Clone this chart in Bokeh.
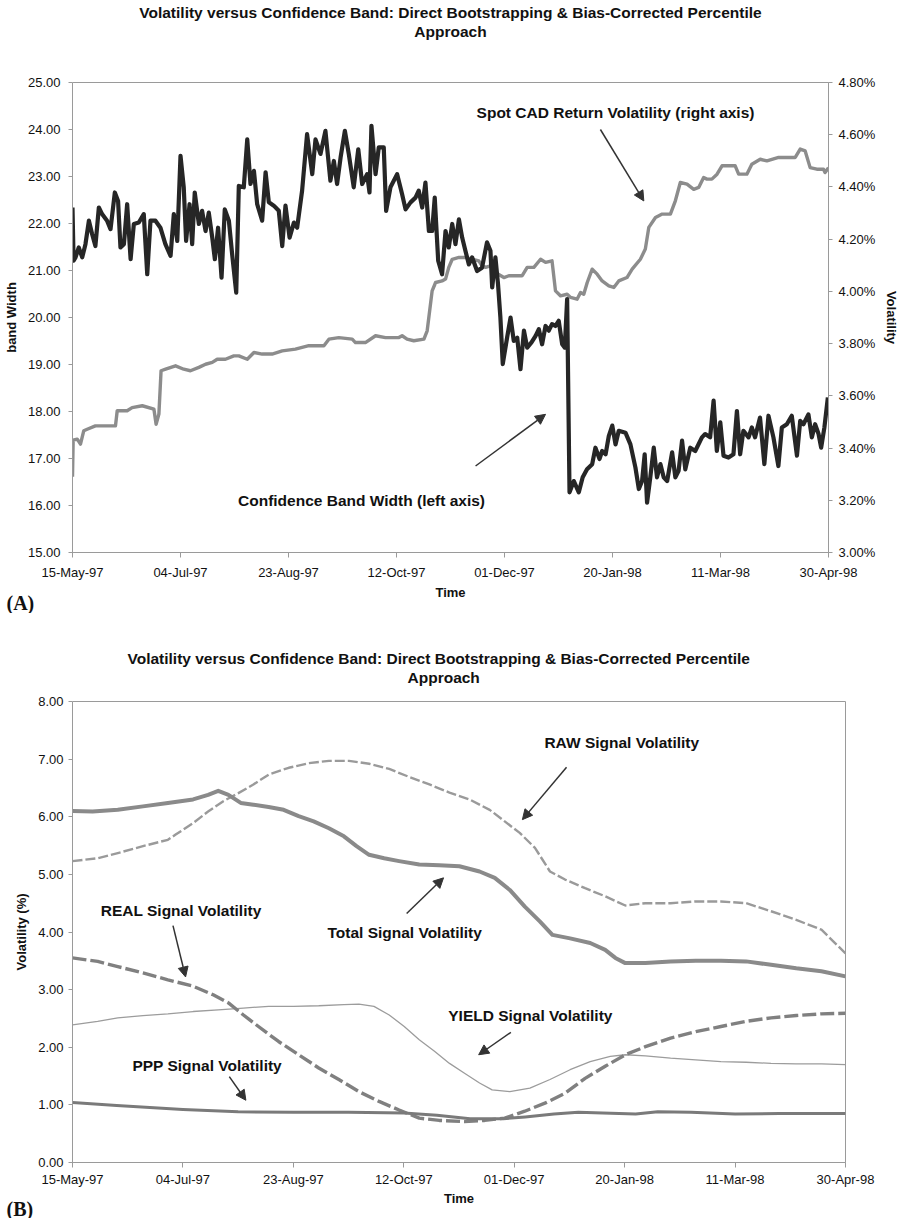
from bokeh.plotting import figure
from bokeh.models import (Range1d, LinearAxis, FixedTicker, PrintfTickFormatter,
                          Label, Arrow, NormalHead, Title)
from bokeh.layouts import column
from bokeh.embed import file_html
from bokeh.resources import INLINE

# ---------------- data ----------------
tick_days = [0, 50, 100, 150, 200, 250, 300, 350]
tick_labels = ["15-May-97", "04-Jul-97", "23-Aug-97", "12-Oct-97",
               "01-Dec-97", "20-Jan-98", "11-Mar-98", "30-Apr-98"]

# Panel A: confidence band width (left axis), days since 15-May-97
band_days = [0, 0.5, 1.4, 2.9, 4.5, 6.0, 7.6, 9.1, 10.6, 12.2, 13.7, 16.0, 17.6, 19.6, 21.1, 22.2,
             23.8, 25.3, 26.9, 28.4, 30.7, 33.0, 34.6, 36.1, 38.4, 40.7, 43.0, 45.4, 46.9, 48.5,
             50.0, 51.5, 52.6, 54.2, 55.4, 56.6, 58.5, 60.0, 61.6, 63.1, 64.7, 65.9, 67.4, 69.0,
             70.5, 72.4, 73.9, 75.8, 77.0, 79.3, 80.9, 82.4, 84.0, 85.5, 87.8, 89.4, 90.9, 93.2,
             95.5, 97.1, 98.6, 100.5, 102.5, 104.0, 106.3, 108.6, 111.0, 112.5, 114.8, 117.1,
             119.4, 121.0, 122.5, 124.1, 126.1, 127.9, 130.2, 132.3, 134.1, 136.4, 137.5, 138.4,
             140.3, 141.8, 144.1, 145.2, 147.2, 150.3, 152.6, 154.2, 156.5, 158.8, 160.3, 161.9,
             163.4, 165.0, 166.5, 167.7, 169.3, 171.1, 172.7, 174.2, 175.8, 177.3, 178.9, 180.4,
             181.9, 183.5, 185.0, 187.3, 189.6, 191.9, 193.5, 194.3, 195.8, 197.0, 198.1, 199.2,
             201.2, 202.8, 204.3, 205.9, 207.4, 209.0, 210.5, 212.5, 214.4, 215.9, 217.4, 219.0,
             220.5, 222.0, 223.6, 225.1, 226.7, 227.9, 229.0, 230.1, 232.1, 234.4, 236.2, 238.2,
             240.6, 242.1, 244.0, 245.2, 246.8, 248.3, 249.9, 251.4, 252.9, 256.0, 258.3, 260.6,
             262.2, 263.7, 264.9, 266.0, 267.5, 269.1, 270.6, 272.2, 273.7, 275.3, 277.6, 279.1,
             280.6, 282.2, 283.7, 286.0, 288.3, 291.4, 292.9, 295.2, 296.8, 298.3, 299.9, 301.4,
             303.7, 306.0, 307.6, 309.1, 310.6, 313.0, 314.5, 316.0, 318.3, 320.3, 322.2, 324.5,
             326.8, 328.4, 330.7, 333.0, 335.4, 336.9, 338.4, 340.7, 342.3, 343.8, 345.4, 346.6,
             348.1, 349.7]
band_width = [22.34, 21.21, 21.28, 21.49, 21.28, 21.56, 22.06, 21.77, 21.52, 22.34, 22.20, 22.06,
              21.88, 22.66, 22.48, 21.49, 21.56, 22.41, 21.24, 21.99, 22.02, 22.20, 20.92, 22.06,
              22.06, 21.91, 21.56, 21.31, 22.20, 21.63, 23.44, 22.77, 21.63, 22.41, 21.56, 22.66,
              21.99, 22.27, 21.84, 22.23, 21.70, 21.24, 21.91, 20.85, 22.30, 22.06, 21.35, 20.53,
              22.80, 22.77, 23.79, 22.84, 23.12, 22.41, 22.06, 23.09, 22.45, 22.38, 22.27, 21.52,
              22.38, 21.70, 22.02, 21.91, 22.70, 23.90, 23.05, 23.79, 23.48, 23.97, 22.91, 23.33,
              22.84, 23.40, 23.97, 23.48, 22.77, 23.58, 22.84, 23.05, 22.66, 24.08, 23.05, 23.62,
              23.62, 22.27, 22.77, 23.05, 22.62, 22.30, 22.45, 22.55, 22.70, 22.34, 22.87, 21.84,
              21.84, 22.55, 21.21, 20.92, 21.84, 21.49, 21.99, 21.56, 22.09, 21.70, 21.42, 21.13,
              21.28, 20.99, 21.06, 21.60, 21.42, 20.64, 21.28, 20.71, 20.00, 19.01, 19.57, 20.00,
              19.50, 19.57, 18.90, 19.72, 19.36, 19.47, 19.61, 19.75, 19.43, 19.82, 19.72, 19.86,
              19.82, 19.93, 19.43, 19.36, 20.39, 16.28, 16.52, 16.28, 16.60, 16.77, 16.88, 17.23,
              16.99, 17.16, 17.09, 17.48, 17.70, 17.30, 17.59, 17.55, 17.30, 16.81, 16.35, 16.52,
              17.09, 16.06, 16.60, 17.23, 16.60, 16.88, 16.60, 16.52, 17.13, 16.60, 16.74, 17.38,
              16.77, 17.23, 17.16, 17.45, 17.52, 17.45, 18.23, 17.16, 17.77, 17.06, 17.02, 17.09,
              18.01, 17.09, 17.59, 17.45, 17.66, 17.45, 17.87, 16.88, 17.91, 17.45, 16.84, 17.66,
              17.73, 17.91, 17.06, 17.80, 17.73, 17.94, 17.45, 17.73, 17.52, 17.23, 17.66, 18.30]

# Panel A: spot CAD return volatility in % (right axis)
vol_days = [0, 0.3, 2.2, 3.7, 5.2, 6.8, 10.6, 19.9, 20.7, 25.3, 27.6, 32.3, 37.7, 38.7, 40.0, 41.0,
            43.1, 47.7, 51.5, 54.6, 58.5, 61.6, 64.7, 67.0, 70.8, 74.7, 77.0, 80.9, 84.0, 87.8,
            92.4, 97.1, 103.2, 109.4, 116.4, 118.7, 123.3, 129.5, 131.0, 135.6, 140.3, 144.9,
            151.1, 152.6, 154.9, 158.0, 162.7, 164.2, 166.5, 168.1, 171.1, 172.7, 174.2, 175.8,
            178.9, 181.9, 185.0, 188.1, 189.6, 191.2, 193.5, 195.8, 199.7, 202.0, 208.2, 210.5,
            213.6, 216.7, 219.0, 222.0, 223.6, 225.9, 229.0, 230.6, 233.6, 235.2, 236.7, 238.3,
            240.6, 242.9, 245.2, 248.3, 250.6, 252.9, 256.7, 259.1, 262.9, 265.2, 266.8, 269.9,
            273.0, 276.8, 279.1, 281.4, 284.5, 287.6, 289.9, 292.2, 293.7, 296.0, 298.4, 300.7,
            306.8, 308.4, 312.2, 314.5, 318.4, 321.5, 326.9, 334.6, 336.9, 339.2, 341.5, 344.6,
            347.7, 348.4, 350.0]
spot_vol = [3.29, 3.43, 3.434, 3.415, 3.466, 3.472, 3.485, 3.485, 3.543, 3.543, 3.555, 3.562,
            3.549, 3.491, 3.530, 3.696, 3.702, 3.715, 3.702, 3.696, 3.709, 3.721, 3.728, 3.740,
            3.740, 3.753, 3.753, 3.740, 3.766, 3.760, 3.760, 3.772, 3.779, 3.792, 3.792, 3.817,
            3.823, 3.817, 3.804, 3.804, 3.830, 3.823, 3.823, 3.830, 3.817, 3.811, 3.817, 3.849,
            4.002, 4.034, 4.040, 4.047, 4.092, 4.123, 4.130, 4.130, 4.123, 4.117, 4.098, 4.092,
            4.098, 4.072, 4.053, 4.060, 4.060, 4.092, 4.092, 4.123, 4.111, 4.117, 4.002, 3.983,
            3.989, 3.977, 3.970, 3.996, 3.989, 4.034, 4.085, 4.066, 4.040, 4.021, 4.015, 4.040,
            4.053, 4.085, 4.123, 4.162, 4.245, 4.283, 4.296, 4.296, 4.347, 4.417, 4.411, 4.391,
            4.398, 4.436, 4.430, 4.430, 4.449, 4.481, 4.481, 4.449, 4.449, 4.487, 4.506, 4.500,
            4.513, 4.513, 4.545, 4.538, 4.474, 4.468, 4.468, 4.455, 4.474]

# Panel B: signal volatilities (%)
total_days = [0, 9.1, 20.5, 31.9, 43.2, 54.6, 61.4, 66.0, 70.6, 76.2, 81.9, 88.8, 95.6, 102.4,
              109.2, 116.1, 122.9, 128.6, 134.3, 141.1, 147.9, 157.0, 166.1, 175.2, 184.3, 191.2,
              198.0, 204.8, 211.7, 217.3, 225.3, 234.4, 241.2, 245.8, 250.3, 259.4, 270.8, 282.2,
              293.6, 305.0, 316.3, 327.7, 339.1, 350]
total_vol = [6.10, 6.09, 6.12, 6.18, 6.24, 6.30, 6.38, 6.45, 6.38, 6.24, 6.21, 6.17, 6.12, 6.01,
             5.92, 5.80, 5.66, 5.49, 5.34, 5.28, 5.23, 5.17, 5.16, 5.14, 5.05, 4.94, 4.73, 4.44,
             4.18, 3.95, 3.89, 3.81, 3.69, 3.55, 3.46, 3.46, 3.49, 3.50, 3.50, 3.49, 3.43, 3.37,
             3.32, 3.23]

raw_days = [0, 11.4, 20.5, 31.9, 43.2, 46.7, 54.6, 61.4, 68.3, 75.1, 81.9, 88.8, 97.9, 107.0,
            116.1, 125.2, 134.3, 143.4, 152.5, 161.6, 170.7, 179.8, 188.9, 195.7, 202.5, 209.4,
            216.2, 223.0, 232.1, 241.2, 250.3, 259.4, 270.8, 282.2, 293.6, 305.0, 316.3, 327.7,
            339.1, 350]
raw_vol = [5.23, 5.28, 5.37, 5.49, 5.60, 5.69, 5.89, 6.09, 6.27, 6.41, 6.56, 6.73, 6.85, 6.93,
           6.97, 6.97, 6.92, 6.83, 6.69, 6.56, 6.42, 6.30, 6.12, 5.92, 5.72, 5.46, 5.05, 4.91,
           4.76, 4.62, 4.46, 4.50, 4.50, 4.53, 4.53, 4.50, 4.36, 4.21, 4.04, 3.63]

real_days = [0, 11.4, 20.5, 31.9, 43.2, 54.6, 63.7, 70.6, 77.4, 84.2, 93.3, 102.4, 111.5, 120.6,
             129.7, 138.8, 147.9, 157.0, 166.1, 177.5, 186.6, 195.7, 204.8, 213.9, 223.0, 232.1,
             241.2, 250.3, 259.4, 270.8, 282.2, 293.6, 305.0, 316.3, 327.7, 339.1, 350]
real_vol = [3.55, 3.49, 3.40, 3.29, 3.17, 3.06, 2.91, 2.77, 2.56, 2.36, 2.10, 1.87, 1.64, 1.44,
            1.23, 1.06, 0.91, 0.77, 0.73, 0.71, 0.73, 0.77, 0.89, 1.03, 1.20, 1.46, 1.67, 1.87,
            2.01, 2.16, 2.27, 2.36, 2.45, 2.51, 2.55, 2.58, 2.59]

yield_days = [0, 11.4, 20.5, 31.9, 43.2, 54.6, 66.0, 77.4, 88.8, 100.1, 111.5, 122.9, 129.7,
              136.5, 143.4, 150.2, 157.0, 163.9, 170.7, 177.5, 184.3, 190.0, 198.0, 207.1, 216.2,
              225.3, 234.4, 243.5, 250.3, 259.4, 270.8, 282.2, 293.6, 305.0, 316.3, 327.7, 339.1,
              350]
yield_vol = [2.39, 2.45, 2.51, 2.55, 2.58, 2.62, 2.65, 2.68, 2.71, 2.71, 2.72, 2.74, 2.75, 2.71,
             2.56, 2.36, 2.13, 1.93, 1.72, 1.55, 1.38, 1.26, 1.23, 1.29, 1.44, 1.61, 1.75, 1.84,
             1.87, 1.85, 1.81, 1.78, 1.75, 1.74, 1.72, 1.71, 1.71, 1.70]

ppp_days = [0, 20, 50, 75, 100, 125, 150, 165, 180, 195, 205, 218, 229, 240, 255, 265, 280,
            300, 320, 350]
ppp_vol = [1.04, 0.99, 0.92, 0.88, 0.87, 0.87, 0.86, 0.82, 0.76, 0.76, 0.79, 0.84, 0.87, 0.86,
           0.84, 0.88, 0.87, 0.84, 0.85, 0.85]

TITLE1 = "Volatility versus Confidence Band: Direct Bootstrapping & Bias-Corrected Percentile"
TITLE2 = "Approach"

FONT = "Liberation Sans"
AX = "#9a9a9a"


def style_axis(ax, ticks, fmt=None, overrides=None):
    ax.ticker = FixedTicker(ticks=ticks)
    if fmt is not None:
        ax.formatter = PrintfTickFormatter(format=fmt)
    if overrides is not None:
        ax.major_label_overrides = overrides
    ax.axis_line_color = AX
    ax.major_tick_line_color = AX
    ax.minor_tick_line_color = None
    ax.major_tick_in = 0
    ax.major_tick_out = 4
    ax.major_label_text_font = FONT
    ax.major_label_text_font_size = "13px"
    ax.major_label_text_color = "#111111"
    ax.axis_label_text_font = FONT
    ax.axis_label_text_font_size = "13px"
    ax.axis_label_text_font_style = "bold"
    ax.axis_label_text_color = "#111111"


def add_titles(p, gap, align="center", offsets=(0, 0)):
    # a blank axis (one white tick, no label) keeps a gap between frame and the title lines
    spacer = LinearAxis(ticker=FixedTicker(ticks=[0]), major_tick_out=gap, major_tick_in=0,
                        axis_line_color=None, major_tick_line_color="white",
                        minor_tick_line_color=None, minor_tick_out=0,
                        major_label_text_alpha=0, major_label_text_font_size="1px",
                        major_label_standoff=0, axis_label_standoff=0)
    p.add_layout(spacer, "above")
    p.add_layout(Title(text=TITLE2, align=align, offset=offsets[1], vertical_align="middle",
                       text_font=FONT, text_font_size="15.5px", text_font_style="bold",
                       text_color="#111111", standoff=0), "above")
    p.add_layout(Title(text=TITLE1, align=align, offset=offsets[0], vertical_align="middle",
                       text_font=FONT, text_font_size="15.5px", text_font_style="bold",
                       text_color="#111111", standoff=0), "above")


def add_tag(p, text):
    # panel letter at the bottom-left corner, pulled up beside the axis title
    p.add_layout(Title(text=text, align="left", offset=-66, vertical_align="top", standoff=-22,
                       text_font="Liberation Serif", text_font_size="20px",
                       text_font_style="bold", text_color="#111111"), "below")


def annotate(p, text, tx, ty, xs, ys, xe, ye):
    p.add_layout(Label(x=tx, y=ty, text=text, text_align="center", text_baseline="middle",
                       text_font=FONT, text_font_size="15.5px", text_font_style="bold",
                       text_color="#111111"))
    p.add_layout(Arrow(x_start=xs, y_start=ys, x_end=xe, y_end=ye, line_color="#333333",
                       line_width=1.5,
                       end=NormalHead(size=10, fill_color="#333333", line_color="#333333")))


overrides = {d: l for d, l in zip(tick_days, tick_labels)}

# ---------------- Panel A ----------------
p1 = figure(frame_width=756, frame_height=470, x_range=Range1d(0, 350), y_range=Range1d(15, 25),
            output_backend="svg", toolbar_location=None, min_border_left=69,
            min_border_right=55, min_border_top=82, min_border_bottom=61,
            outline_line_color=AX, background_fill_color="white", border_fill_color="white")
p1.xgrid.visible = False
p1.ygrid.visible = False
p1.extra_y_ranges = {"vol": Range1d(3.0, 4.8)}

xa1 = p1.below[0]
ya1 = p1.left[0]
style_axis(xa1, tick_days, overrides=overrides)
xa1.major_tick_out = 5
xa1.major_label_standoff = 7
xa1.axis_label = "Time"
xa1.axis_label_standoff = 2

style_axis(ya1, [15, 16, 17, 18, 19, 20, 21, 22, 23, 24, 25], fmt="%.2f")
ya1.major_label_standoff = 8
ya1.axis_label = "band Width"
ya1.axis_label_standoff = 6

ax_r = LinearAxis(y_range_name="vol", axis_label="Volatility")
style_axis(ax_r, [3.0, 3.2, 3.4, 3.6, 3.8, 4.0, 4.2, 4.4, 4.6, 4.8], fmt="%.2f%%")
ax_r.major_label_standoff = 6
ax_r.axis_label_standoff = 6
p1.add_layout(ax_r, "right")

add_titles(p1, 42)
add_tag(p1, "(A)")

p1.line(vol_days, spot_vol, y_range_name="vol", line_color="#8c8c8c", line_width=3.4,
        line_join="round")
p1.line(band_days, band_width, line_color="#262626", line_width=4.2, line_join="round")

annotate(p1, "Spot CAD Return Volatility (right axis)", 251.4, 24.36, 244.4, 24.0, 264.5, 22.48)
annotate(p1, "Confidence Band Width (left axis)", 133.8, 16.11, 186.6, 16.84, 219.0, 17.94)

# ---------------- Panel B ----------------
p2 = figure(frame_width=773, frame_height=461, x_range=Range1d(0, 350), y_range=Range1d(0, 8),
            output_backend="svg", toolbar_location=None, min_border_left=69,
            min_border_right=46, min_border_top=88, min_border_bottom=56,
            outline_line_color=AX, background_fill_color="white", border_fill_color="white")
p2.xgrid.visible = False
p2.ygrid.visible = False

xa2 = p2.below[0]
ya2 = p2.left[0]
style_axis(xa2, tick_days, overrides=overrides)
xa2.major_tick_out = 5
xa2.major_label_standoff = 4
xa2.axis_label = "Time"
xa2.axis_label_standoff = 1

style_axis(ya2, [0, 1, 2, 3, 4, 5, 6, 7, 8], fmt="%.2f")
ya2.major_label_standoff = 5
ya2.axis_label = "Volatility (%)"
ya2.axis_label_standoff = 6

add_titles(p2, 15, align="left", offsets=(55, 335))
add_tag(p2, "(B)")

p2.line(yield_days, yield_vol, line_color="#9c9c9c", line_width=1.3, line_join="round")
p2.line(raw_days, raw_vol, line_color="#9a9a9a", line_width=2.4, line_dash="10 3",
        line_join="round")
p2.line(total_days, total_vol, line_color="#8a8a8a", line_width=4.0, line_join="round")
p2.line(real_days, real_vol, line_color="#808080", line_width=3.4, line_dash="14 4",
        line_join="round")
p2.line(ppp_days, ppp_vol, line_color="#7a7a7a", line_width=3.0, line_join="round")

annotate(p2, "RAW Signal Volatility", 248.7, 7.28, 223.7, 6.86, 203.7, 5.95)
annotate(p2, "Total Signal Volatility", 150.4, 3.99, 151.3, 4.32, 168.0, 4.94)
annotate(p2, "REAL Signal Volatility", 49.2, 4.375, 45.5, 4.11, 51.2, 3.22)
annotate(p2, "YIELD Signal Volatility", 207.3, 2.55, 198.5, 2.26, 183.9, 1.87)
annotate(p2, "PPP Signal Volatility", 61.0, 1.68, 71.0, 1.49, 78.5, 1.08)

layout = column(p1, p2)
open("out.html", "w").write(file_html(layout, INLINE))
